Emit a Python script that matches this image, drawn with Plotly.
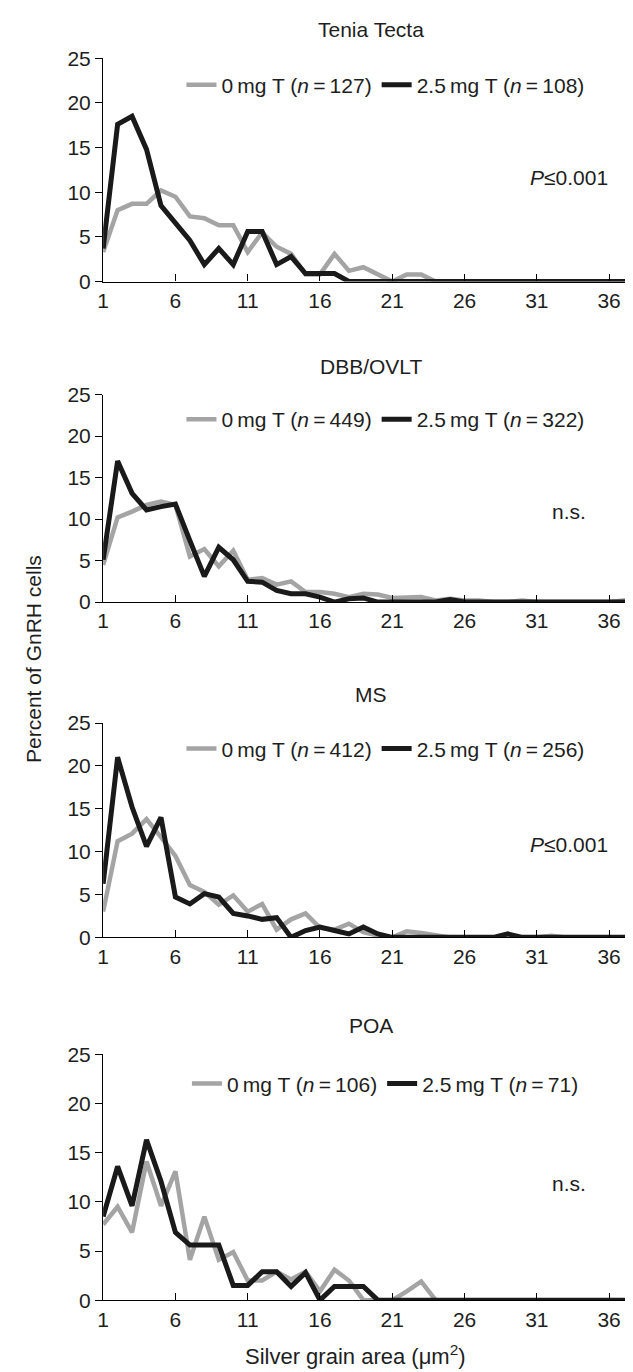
import plotly.graph_objects as go

W, H = 633, 1372

grain_area = list(range(1, 39))
x_tick_vals = [1, 6, 11, 16, 21, 26, 31, 36]
y_tick_vals = [0, 5, 10, 15, 20, 25]

panel_titles = ["Tenia Tecta", "DBB/OVLT", "MS", "POA"]
n_ctrl = [127, 449, 412, 106]
n_trt = [108, 322, 256, 71]
stats_text = ["<i>P</i>\u22640.001", "n.s.", "<i>P</i>\u22640.001", "n.s."]
stats_y = [11.7, 10.9, 10.8, 11.9]

# Percent of GnRH cells, 0 mg T (grey) and 2.5 mg T (black)
tt_0mg = [3.3, 8.0, 8.7, 8.7, 10.2, 9.5, 7.3, 7.1, 6.3, 6.3, 3.3, 5.5, 3.9, 3.1, 0.8, 0.8,
          3.1, 1.2, 1.6, 0.8, 0, 0.8, 0.8, 0, 0, 0, 0, 0, 0, 0, 0, 0, 0, 0, 0, 0, 0, 0]
tt_25mg = [3.7, 17.6, 18.5, 14.8, 8.5, 6.6, 4.6, 1.9, 3.7, 1.9, 5.6, 5.6, 1.9, 2.8, 0.9, 0.9,
           0.9, 0, 0, 0, 0, 0, 0, 0, 0, 0, 0, 0, 0, 0, 0, 0, 0, 0, 0, 0, 0, 0]

dbb_0mg = [4.5, 10.2, 10.9, 11.7, 12.1, 11.7, 5.5, 6.4, 4.3, 6.2, 2.7, 2.9, 2.1, 2.5, 1.2, 1.2,
           1.0, 0.6, 1.0, 0.9, 0.5, 0.6, 0.6, 0.2, 0.4, 0.2, 0.2, 0, 0, 0.2, 0, 0, 0, 0, 0, 0, 0.2, 0]
dbb_25mg = [5.1, 17.0, 13.1, 11.1, 11.5, 11.8, 7.4, 3.1, 6.6, 5.1, 2.5, 2.4, 1.4, 1.0, 1.0, 0.6,
            0, 0.4, 0.5, 0, 0, 0, 0, 0, 0.3, 0, 0, 0, 0, 0, 0, 0, 0, 0, 0, 0, 0, 0]

ms_0mg = [3.0, 11.2, 12.1, 13.8, 11.7, 9.5, 6.1, 5.3, 3.8, 4.9, 3.0, 3.9, 0.9, 2.1, 2.8, 1.1,
          0.9, 1.6, 0.6, 0.2, 0, 0.7, 0.5, 0.2, 0, 0, 0, 0, 0.2, 0, 0, 0.2, 0, 0, 0, 0, 0, 0]
ms_25mg = [6.25, 21.0, 15.2, 10.6, 14.0, 4.7, 3.9, 5.1, 4.7, 2.8, 2.5, 2.1, 2.3, 0, 0.8, 1.2,
           0.8, 0.4, 1.2, 0.4, 0, 0, 0, 0, 0, 0, 0, 0, 0.4, 0, 0, 0, 0, 0, 0, 0, 0, 0]

poa_0mg = [7.7, 9.5, 6.9, 14.1, 9.6, 13.1, 4.1, 8.5, 4.1, 4.9, 2.0, 2.0, 2.9, 2.1, 2.9, 0.9,
           3.1, 2.0, 0, 0, 0, 0.9, 1.9, 0, 0, 0, 0, 0, 0, 0, 0, 0, 0, 0, 0, 0, 0, 0]
poa_25mg = [8.5, 13.6, 9.6, 16.3, 12.1, 6.9, 5.6, 5.6, 5.6, 1.5, 1.5, 2.9, 2.9, 1.4, 2.8, 0,
            1.4, 1.4, 1.4, 0, 0, 0, 0, 0, 0, 0, 0, 0, 0, 0, 0, 0, 0, 0, 0, 0, 0, 0]

ctrl_series = [tt_0mg, dbb_0mg, ms_0mg, poa_0mg]
trt_series = [tt_25mg, dbb_25mg, ms_25mg, poa_25mg]

# layout (pixel positions of the value 25 and value 0 for each panel)
panel_px = [(39, 266), (381, 592), (715, 933), (1052, 1302)]
x_left_px, x_right_px = 90, 630

FONT = "Liberation Sans, Arial, sans-serif"
TXT = "#1e1e1e"
GREY = "#a4a4a4"
BLACK = "#1a1a1a"

fig = go.Figure()
annotations = []
layout_upd = {}

for i in range(4):
    k = "" if i == 0 else str(i + 1)
    top, bot = panel_px[i]
    ydom = [1 - bot / H, 1 - top / H]
    legname = "legend" + k
    fig.add_trace(go.Scatter(
        x=grain_area, y=ctrl_series[i], mode="lines",
        line=dict(color=GREY, width=4.5),
        name=f"0\u2009mg T (<i>n</i>\u2009=\u2009{n_ctrl[i]})",
        xaxis="x" + k, yaxis="y" + k, legend=legname))
    fig.add_trace(go.Scatter(
        x=grain_area, y=trt_series[i], mode="lines",
        line=dict(color=BLACK, width=5),
        name=f"2.5\u2009mg T (<i>n</i>\u2009=\u2009{n_trt[i]})",
        xaxis="x" + k, yaxis="y" + k, legend=legname))

    layout_upd["xaxis" + k] = dict(
        domain=[x_left_px / W, x_right_px / W], anchor="y" + k,
        range=[1, 38], tickvals=x_tick_vals, ticks="inside", ticklen=7,
        tickcolor="black", showline=True, linecolor="black", linewidth=1.3,
        showgrid=False, zeroline=False,
        tickfont=dict(family=FONT, size=21, color=TXT))
    layout_upd["yaxis" + k] = dict(
        domain=ydom, anchor="x" + k, range=[0, 25], tickvals=y_tick_vals,
        ticks="outside", ticklen=7, tickcolor="black", showline=True,
        linecolor="black", linewidth=1.3, showgrid=False, zeroline=False,
        tickfont=dict(family=FONT, size=21, color=TXT))

    leg_px = bot - 22 / 25 * (bot - top)
    layout_upd[legname] = dict(
        x=375 / W, y=1 - leg_px / H, xanchor="center", yanchor="middle",
        orientation="h", bgcolor="rgba(0,0,0,0)",
        font=dict(family=FONT, size=21, color=TXT),
        itemwidth=30, tracegroupgap=0)

    annotations.append(dict(
        text=panel_titles[i], xref="x" + k + " domain", yref="y" + k + " domain",
        x=0.5, y=1, yanchor="bottom", yshift=15, showarrow=False,
        font=dict(family=FONT, size=21, color=TXT)))
    annotations.append(dict(
        text=stats_text[i], xref="paper", yref="y" + k,
        x=560 / W, y=stats_y[i], xanchor="center", yanchor="middle",
        showarrow=False, font=dict(family=FONT, size=21, color=TXT)))

annotations.append(dict(
    text="Percent of GnRH cells", xref="paper", yref="paper",
    x=19 / W, y=1 - 650 / H, textangle=-90, xanchor="center", yanchor="middle",
    showarrow=False, font=dict(family=FONT, size=21, color=TXT)))
annotations.append(dict(
    text="Silver grain area (\u03bcm<sup>2</sup>)", xref="paper", yref="paper",
    x=(x_left_px + 600) / 2 / W, y=1 - 1358 / H, xanchor="center", yanchor="middle",
    showarrow=False, font=dict(family=FONT, size=22, color=TXT)))

fig.update_layout(
    width=W, height=H, margin=dict(l=0, r=0, t=0, b=0),
    paper_bgcolor="white", plot_bgcolor="white",
    annotations=annotations, **layout_upd)

fig.write_html("out.html")
